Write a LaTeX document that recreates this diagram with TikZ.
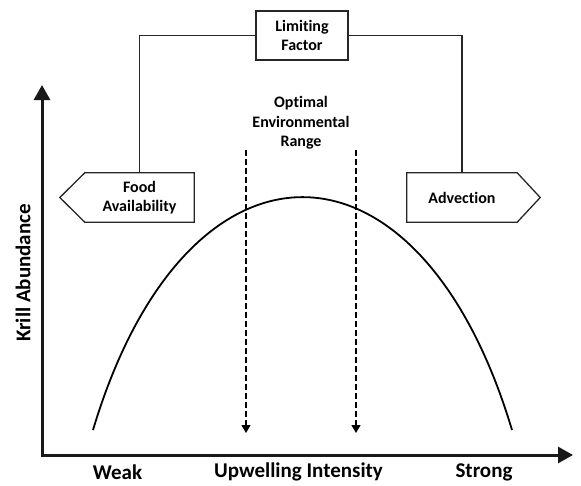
\documentclass[tikz,border=0pt]{standalone}
\usepackage{fontspec}
\setmainfont{Carlito}[Ligatures=NoCommon]
\usetikzlibrary{arrows.meta}
\begin{document}
\begin{tikzpicture}[x=1pt,y=-1pt,
  lbl/.style={font=\fontsize{16}{19.5}\selectfont\bfseries,align=center,inner sep=0pt},
  axlbl/.style={font=\fontsize{21}{24}\selectfont\bfseries,inner sep=0pt},
  boxline/.style={draw=black!85,line width=1.3pt},
  conn/.style={draw=black!85,line width=1.5pt},
  axis/.style={line width=3pt,draw=black!90},
  dasharrow/.style={line width=1.3pt,dash pattern=on 6pt off 3pt,-{Triangle[width=9pt,length=8pt]}}]
\useasboundingbox (0,0) rectangle (581,485);
% limiting factor box
\node[lbl,boxline,minimum width=92pt,minimum height=49pt] (lim) at (302,35.5) {Limiting\\Factor};
% food availability (pointing left)
\node[lbl,minimum width=109pt,minimum height=49pt] (food) at (139.5,197.5) {Food\\Availability};
\draw[boxline,line join=miter] (food.north west) -- (food.north east) -- (food.south east) -- (food.south west) -- ([xshift=-25pt]food.west) -- cycle;
% advection (pointing right)
\node[lbl,minimum width=110pt,minimum height=49pt] (adv) at (462,197.5) {Advection};
\draw[boxline,line join=miter] (adv.north east) -- (adv.north west) -- (adv.south west) -- (adv.south east) -- ([xshift=23pt]adv.east) -- cycle;
% connectors
\draw[conn] (food.north) |- (lim.west);
\draw[conn] (lim.east) -| (adv.north);
% axes
\coordinate (ytop) at (42,85);
\coordinate (orig) at (42,455);
\coordinate (xend) at (573,455);
\draw[axis,{Triangle[width=16pt,length=15pt]}-{Triangle[width=16pt,length=15pt]}] (ytop) -- (orig) -- (xend);
% curve
\coordinate (cl) at (93,430);
\coordinate (cr) at (512,430);
\draw[line width=1.8pt] (cl) .. controls (186,119.5) and (419,119.5) .. (cr);
% optimal range
\node[lbl] (opt) at (301,123) {Optimal\\Environmental\\Range};
\coordinate (d1s) at (246,150);
\coordinate (d1e) at (246,433);
\coordinate (d2s) at (356,150);
\coordinate (d2e) at (356,433);
\draw[dasharrow] (d1s) -- (d1e);
\draw[dasharrow] (d2s) -- (d2e);
% axis labels
\node[axlbl] (weak) at (117.5,472) {Weak};
\node[axlbl] (upw) at (298.5,472) {Upwelling Intensity};
\node[axlbl] (strong) at (484,472) {Strong};
\node[axlbl,rotate=90] (krill) at (23,273) {Krill Abundance};
\end{tikzpicture}
\end{document}
